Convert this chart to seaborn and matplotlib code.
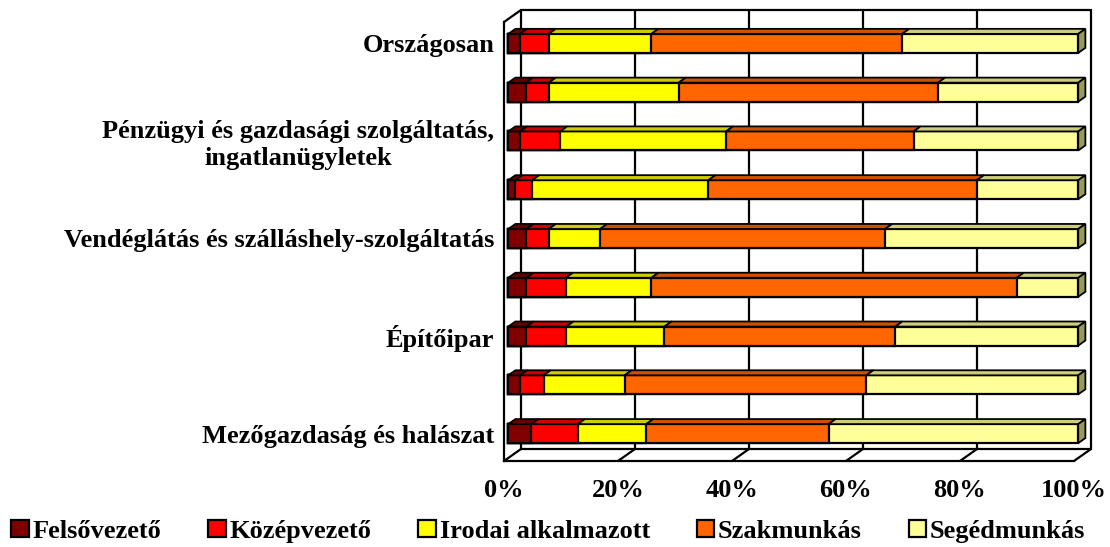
import numpy as np
import pandas as pd
import matplotlib
matplotlib.use("Agg")
import matplotlib.pyplot as plt
from matplotlib.patches import Polygon, Patch
from matplotlib.transforms import offset_copy
from matplotlib.colors import to_rgb
import seaborn as sns

# ---- data -------------------------------------------------------------
categories = [
    "Országosan",
    "",
    "Pénzügyi és gazdasági szolgáltatás,\ningatlanügyletek",
    "",
    "Vendéglátás és szálláshely-szolgáltatás",
    "",
    "Építőipar",
    "",
    "Mezőgazdaság és halászat",
]
series = ["Felsővezető", "Középvezető", "Irodai alkalmazott", "Szakmunkás", "Segédmunkás"]
felsovezeto = [2.1, 3.1, 2.1, 1.2, 3.2, 3.2, 3.2, 2.1, 4.0]
kozepvezeto = [5.0, 4.0, 7.0, 3.0, 3.9, 6.9, 7.0, 4.1, 8.2]
irodai_alkalmazott = [18.0, 22.8, 29.1, 30.9, 9.0, 15.0, 17.2, 14.2, 12.0]
szakmunkas = [44.0, 45.5, 32.9, 47.1, 50.0, 64.1, 40.5, 42.4, 32.0]
segedmunkas = [30.9, 24.6, 28.9, 17.8, 33.9, 10.8, 32.1, 37.2, 43.8]
x_ticks = [0, 20, 40, 60, 80, 100]
x_tick_labels = ["0%", "20%", "40%", "60%", "80%", "100%"]
colors = ["#800000", "#FF0000", "#FFFF00", "#FF6600", "#FFFF99"]

# ---- style ------------------------------------------------------------
sns.set_theme(style="white")
plt.rcParams["font.family"] = ["Liberation Serif", "DejaVu Serif"]
plt.rcParams["font.weight"] = "bold"
for key in ["text.color", "axes.labelcolor", "xtick.color", "ytick.color"]:
    plt.rcParams[key] = "black"
FS = 19
LW = 1.6

df = pd.DataFrame(
    {s: v for s, v in zip(series, [felsovezeto, kozepvezeto, irodai_alkalmazott, szakmunkas, segedmunkas])}
)
keys = [f"k{i}" for i in range(len(categories))]
df["key"] = keys
cum = df[series].cumsum(axis=1)
n = len(categories)

W, H = 1110, 547
fig = plt.figure(figsize=(W / 100, H / 100), dpi=100)
# front plane of the 3-D box
x0_px, x1_px, y0_px, y1_px = 504, 1074, 22, 461
ax = fig.add_axes([x0_px / W, 1 - y1_px / H, (x1_px - x0_px) / W, (y1_px - y0_px) / H])

# depth vector of the box (pixels, display coords: right / up)
DX, DY = 17, 12
f_front, f_back = 0.25, 0.67
bar_w = 0.39

# cumulative bars, longest first, so each visible part shows one series
for j in reversed(range(len(series))):
    sns.barplot(x=cum[series[j]], y=df["key"], order=keys, orient="h",
                color=colors[j], saturation=1, width=bar_w,
                edgecolor="black", linewidth=LW, ax=ax, zorder=3)

ax.set_xlim(0, 100)
ax.set_ylim(n - 0.5, -0.5)

# shift the bar front faces into the box
front_tr = offset_copy(ax.transData, fig=fig, x=DX * f_front, y=DY * f_front, units="dots")
for p in ax.patches:
    p.set_transform(front_tr)
    p.set_clip_on(False)

# pixel -> data conversion
sx = 100 / (x1_px - x0_px)
sy = n / (y1_px - y0_px)


def depth(f):
    return DX * f * sx, -DY * f * sy


def shade(c, k):
    r, g, b = to_rgb(c)
    return (r * k, g * k, b * k)


d0x, d0y = depth(f_front)
d1x, d1y = depth(f_back)
for i in range(n):
    yt = i - bar_w / 2
    yb = i + bar_w / 2
    prev = 0.0
    for j, s in enumerate(series):
        end = cum.iloc[i, j]
        top = Polygon([(prev + d0x, yt + d0y), (end + d0x, yt + d0y),
                       (end + d1x, yt + d1y), (prev + d1x, yt + d1y)],
                      closed=True, facecolor=shade(colors[j], 0.8),
                      edgecolor="black", linewidth=LW * 0.8, zorder=4, clip_on=False)
        ax.add_patch(top)
        prev = end
    side = Polygon([(prev + d0x, yt + d0y), (prev + d1x, yt + d1y),
                    (prev + d1x, yb + d1y), (prev + d0x, yb + d0y)],
                   closed=True, facecolor=shade(colors[-1], 0.6),
                   edgecolor="black", linewidth=LW * 0.8, zorder=4, clip_on=False)
    ax.add_patch(side)

# back wall with gridlines
bx, by = depth(1.0)
for xt in x_ticks:
    ax.plot([xt + bx, xt + bx], [-0.5 + by, n - 0.5 + by], color="black", lw=LW, zorder=1, clip_on=False)
ax.plot([bx, 100 + bx], [-0.5 + by, -0.5 + by], color="black", lw=LW, zorder=1, clip_on=False)
ax.plot([bx, 100 + bx], [n - 0.5 + by, n - 0.5 + by], color="black", lw=LW, zorder=1, clip_on=False)
# floor and side wall edges
for xt in x_ticks:
    ax.plot([xt, xt + bx], [n - 0.5, n - 0.5 + by], color="black", lw=LW, zorder=1, clip_on=False)
ax.plot([0, bx], [-0.5, -0.5 + by], color="black", lw=LW, zorder=1, clip_on=False)

# front axes
for side_name in ["top", "right"]:
    ax.spines[side_name].set_visible(False)
for side_name in ["left", "bottom"]:
    ax.spines[side_name].set_color("black")
    ax.spines[side_name].set_linewidth(LW)
    ax.spines[side_name].set_zorder(2)

ax.set_xticks(x_ticks)
ax.set_xticklabels(x_tick_labels, fontsize=FS, fontweight="bold", color="black")
ax.tick_params(axis="x", direction="out", length=4, width=LW, color="black", pad=9)

label_pos = np.arange(n) + d0y
ax.set_yticks(label_pos)
ax.set_yticklabels(categories, fontsize=FS, fontweight="bold", multialignment="center", color="black")
ax.set_yticks(np.arange(n + 1) - 0.5, minor=True)
ax.tick_params(axis="y", which="major", length=0, pad=7)
ax.tick_params(axis="y", which="minor", direction="out", length=7, width=LW, color="black")
ax.set_xlabel("")
ax.set_ylabel("")
ax.grid(False)
ax.set_facecolor("none")

handles = [Patch(facecolor=c, edgecolor="black", linewidth=LW) for c in colors]
fig.legend(handles, series, loc="center", bbox_to_anchor=(0.494, 0.029), ncol=5,
           frameon=False, fontsize=FS, handlelength=0.65, handleheight=0.65,
           handletextpad=0.15, columnspacing=1.78, borderaxespad=0, borderpad=0,
           labelcolor="black")

fig.savefig("out.png", dpi=100)
